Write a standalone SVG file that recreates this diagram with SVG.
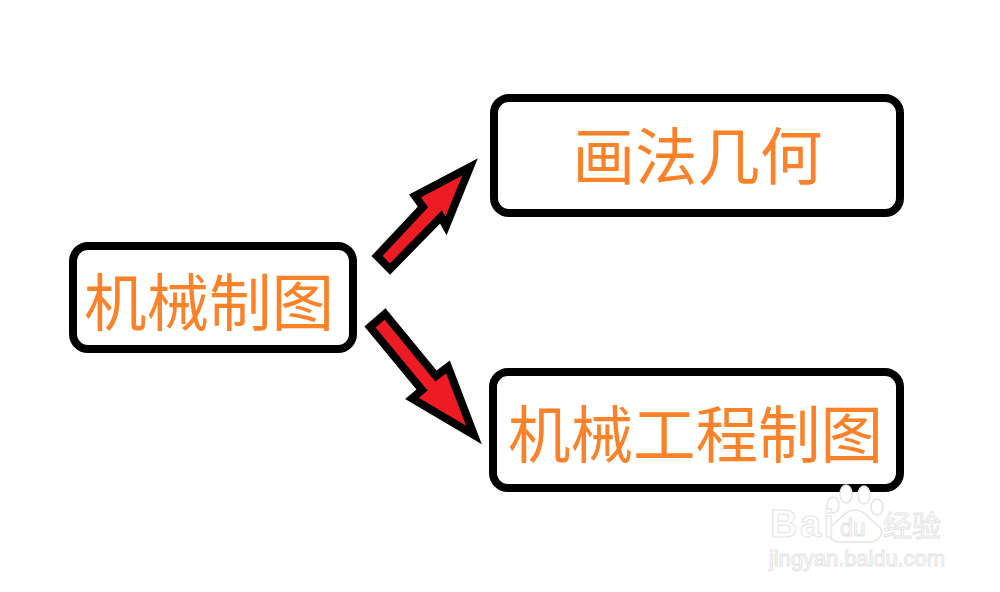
<svg xmlns="http://www.w3.org/2000/svg" width="1000" height="592" viewBox="0 0 1000 592">
<style>
.box{fill:#fff;stroke:#000;stroke-width:8}
.lbl{font-family:"Noto Sans CJK SC","Liberation Sans",sans-serif;font-size:62.500px;fill:#fb8228;text-anchor:middle}
.arr{fill:#ed1c24;stroke:#000;stroke-width:8;stroke-linejoin:miter;stroke-miterlimit:10}
.wm{font-family:"Liberation Sans",sans-serif;fill:#fff;stroke:#e4e4e4;stroke-width:1}
.wmc{font-family:"Noto Sans CJK SC",sans-serif;fill:#fff;stroke:#e4e4e4;stroke-width:1}
.paw{fill:#fff;stroke:#e4e4e4;stroke-width:1.5}
</style>
<rect width="1000" height="592" fill="#fff"/>
<g id="node-jixie-zhitu"><rect class="box" x="73" y="246" width="280" height="103" rx="15"/><text class="lbl" x="209" y="326">机械制图</text></g>
<g id="node-huafa-jihe"><rect class="box" x="494" y="98" width="406" height="115" rx="15"/><text class="lbl" x="697.500" y="180">画法几何</text></g>
<g id="node-jixie-gongcheng-zhitu"><rect class="box" x="493" y="372" width="407" height="116" rx="15"/><text class="lbl" x="695.500" y="458">机械工程制图</text></g>
<g id="connectors">
<path class="arr" d="M470,167 L415,196 L423,207 L377,256 L390,269 L441,217 L446,226 Z"/>
<path class="arr" d="M474,435 L448,367 L436,376 L385,314 L370,327 L422,390 L412,398.500 Z"/>
</g>
<g id="watermark">
<ellipse class="paw" cx="846" cy="494" rx="6" ry="9"/>
<ellipse class="paw" cx="864" cy="495" rx="6" ry="9"/>
<ellipse class="paw" cx="833" cy="505" rx="6" ry="8"/>
<ellipse class="paw" cx="877" cy="507" rx="6" ry="8"/>
<path class="paw" d="M855,510 C845,510 842,518 834,524 C823,532 830,543 843,542 L867,542 C880,543 887,532 876,524 C868,518 865,510 855,510 Z"/>
<text class="wm" x="770" y="537" font-size="38" font-weight="700" textLength="64">Bai</text>
<text class="wm" x="840" y="536" font-size="23">du</text>
<text class="wmc" x="883" y="537" font-size="29">经验</text>
<text class="wm" x="769" y="566" font-size="22" textLength="176">jingyan.baidu.com</text>
</g>
</svg>
